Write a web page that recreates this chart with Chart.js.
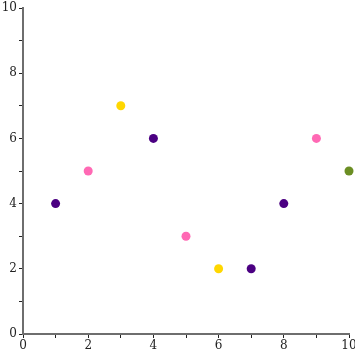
<!DOCTYPE html>
<html lang="en">
<head>
  <meta charset="UTF-8">
  <title>Scatter</title>
  <script src="https://cdn.jsdelivr.net/npm/chart.js@4.4.0/dist/chart.umd.min.js"></script>
  <style>
    body { margin: 0; padding: 0; background: #fff; }
    canvas { display: block; }
  </style>
</head>
<body>
  <canvas id="scatterChart" width="355" height="355"></canvas>
  <script>
    // data
    const xValues = [1, 2, 3, 4, 5, 6, 7, 8, 9, 10];
    const yValues = [4, 5, 7, 6, 3, 2, 2, 4, 6, 5];
    const pointColors = ['#4b0082', '#ff69b4', '#ffd700', '#4b0082', '#ff69b4',
                         '#ffd700', '#4b0082', '#4b0082', '#ff69b4', '#6b8e23'];
    const axisMin = 0;
    const axisMax = 10;
    const labelStep = 2;

    const axisGray = '#6e6e6e';
    const tickFont = { family: '"DejaVu Serif", serif', size: 12 };

    function evenOnly(value) {
      return value % labelStep === 0 ? value : '';
    }

    new Chart(document.getElementById('scatterChart'), {
      type: 'scatter',
      data: {
        datasets: [{
          data: xValues.map((x, i) => ({ x: x, y: yValues[i] })),
          backgroundColor: pointColors,
          borderColor: pointColors,
          borderWidth: 0,
          pointRadius: 4.5,
          pointHoverRadius: 4.5,
          clip: false
        }]
      },
      options: {
        responsive: false,
        animation: false,
        layout: { padding: { top: 8, right: 6, left: 0, bottom: 0 } },
        scales: {
          x: {
            type: 'linear',
            min: axisMin,
            max: axisMax,
            afterFit: (axis) => { axis.height = 21; axis.paddingRight = 0; axis.paddingLeft = 0; },
            border: { color: axisGray, width: 2 },
            grid: { drawOnChartArea: false, tickLength: 4, tickColor: '#222', tickWidth: 1 },
            ticks: { stepSize: 1, autoSkip: false, maxRotation: 0, padding: 1, color: '#222', font: tickFont, callback: evenOnly }
          },
          y: {
            type: 'linear',
            min: axisMin,
            max: axisMax,
            afterFit: (axis) => { axis.width = 23; axis.paddingTop = 0; axis.paddingBottom = 0; },
            border: { color: axisGray, width: 2 },
            grid: { drawOnChartArea: false, tickLength: 4, tickColor: '#222', tickWidth: 1 },
            ticks: { stepSize: 1, autoSkip: false, padding: 2, color: '#222', font: tickFont, callback: evenOnly }
          }
        },
        plugins: {
          legend: { display: false },
          tooltip: { enabled: false }
        }
      }
    });
  </script>
</body>
</html>
